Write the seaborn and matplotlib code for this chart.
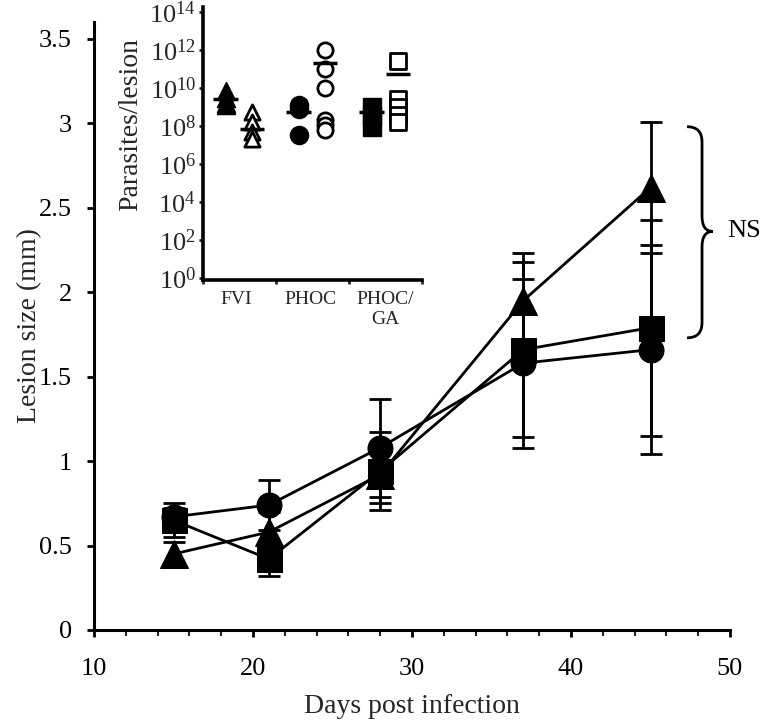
import numpy as np
import pandas as pd
import matplotlib
matplotlib.use("Agg")
import matplotlib.pyplot as plt
from matplotlib.path import Path
from matplotlib.patches import PathPatch
from matplotlib.ticker import FixedLocator, MultipleLocator
import seaborn as sns

# ---------------- data ----------------
days = [15, 21, 28, 37, 45]
circle_mean = [0.67, 0.74, 1.08, 1.58, 1.66]
circle_sd = [0.05, 0.15, 0.29, 0.50, 0.62]
square_mean = [0.65, 0.42, 0.94, 1.66, 1.79]
square_sd = [0.10, 0.10, 0.23, 0.52, 0.64]
triangle_mean = [0.45, 0.58, 0.92, 1.95, 2.62]
triangle_sd = [0.07, 0.12, 0.17, 0.28, 0.39]

x_ticks = [10, 20, 30, 40, 50]
y_ticks = [0, 0.5, 1, 1.5, 2, 2.5, 3, 3.5]
y_tick_labels = ["0", "0.5", "1", "1.5", "2", "2.5", "3", "3.5"]

# inset: log10(parasites/lesion)
inset_categories = ["FVI", "PHOC", "PHOC/\nGA"]
fvi_filled = [9.85, 9.45, 9.2, 9.1]
fvi_open = [8.75, 8.2, 7.7, 7.3]
phoc_filled = [9.1, 8.9, 7.5]
phoc_open = [12.0, 11.0, 10.0, 8.3, 8.05, 7.8]
ga_filled = [9.0, 8.5, 7.95]
ga_open = [11.4, 9.4, 9.0, 8.55, 8.2]
# group means (log10)
fvi_means = [9.42, 7.84]
phoc_means = [8.73, 11.32]
ga_means = [8.73, 10.72]
inset_exponents = [0, 2, 4, 6, 8, 10, 12, 14]

# ---------------- style ----------------
sns.set_style("ticks")
plt.rcParams["font.family"] = ["Liberation Serif", "DejaVu Serif"]
plt.rcParams["mathtext.fontset"] = "custom"
plt.rcParams["mathtext.rm"] = "Liberation Serif"
plt.rcParams["mathtext.it"] = "Liberation Serif:italic"
plt.rcParams["mathtext.bf"] = "Liberation Serif:bold"
plt.rcParams["text.color"] = "black"

fig = plt.figure(figsize=(7.63, 7.24), dpi=100)
ax = fig.add_axes([94 / 763, 1 - 630 / 724, 636 / 763, 608 / 724])

df = pd.DataFrame({
    "day": days * 3,
    "size": circle_mean + triangle_mean + square_mean,
    "group": ["circle"] * 5 + ["triangle"] * 5 + ["square"] * 5,
})
marker_map = {"circle": "o", "triangle": "^", "square": "s"}
sd_map = {"circle": circle_sd, "triangle": triangle_sd, "square": square_sd}
mean_map = {"circle": circle_mean, "triangle": triangle_mean, "square": square_mean}

for g in ["circle", "triangle", "square"]:
    ax.errorbar(days, mean_map[g], yerr=sd_map[g], fmt="none", ecolor="black",
                elinewidth=2.0, capsize=8, capthick=2.0, zorder=2)
    sub = df[df["group"] == g]
    sns.lineplot(data=sub, x="day", y="size", ax=ax, color="black",
                 marker=marker_map[g], markersize=18 if g != "triangle" else 20,
                 markeredgecolor="black", markerfacecolor="black",
                 linewidth=2.0, legend=False, zorder=3, errorbar=None)

ax.set_xlim(10, 50)
ax.set_ylim(0, 3.6)
ax.xaxis.set_major_locator(FixedLocator(x_ticks))
ax.xaxis.set_minor_locator(MultipleLocator(2))
ax.yaxis.set_major_locator(FixedLocator(y_ticks))
ax.set_yticklabels(y_tick_labels)
ax.tick_params(axis="both", which="major", direction="out", length=5, width=2,
               labelsize=19, colors="black")
ax.tick_params(axis="x", which="major", pad=15)
ax.tick_params(axis="y", which="major", pad=11)
ax.tick_params(axis="x", which="minor", direction="out", length=4, width=1.5)
for s in ["top", "right"]:
    ax.spines[s].set_visible(False)
for s in ["left", "bottom"]:
    ax.spines[s].set_linewidth(2.2)
    ax.spines[s].set_color("black")
ax.set_xlabel("Days post infection", fontsize=20)
ax.set_ylabel("Lesion size (mm)", fontsize=20)
ax.xaxis.set_label_coords(0.5, -0.105)
ax.yaxis.set_label_coords(-0.082, 0.5)

# curly brace + NS
x0, x1, x2 = 47.3, 48.24, 48.93
ytop, ybot, ymid = 2.98, 1.73, 2.36
r = 0.09
verts = [(x0, ytop), (x1, ytop), (x1, ytop - r),
         (x1, ymid + r), (x1, ymid), (x2, ymid),
         (x1, ymid), (x1, ymid - r),
         (x1, ybot + r), (x1, ybot), (x0, ybot)]
codes = [Path.MOVETO, Path.CURVE3, Path.CURVE3,
         Path.LINETO, Path.CURVE3, Path.CURVE3,
         Path.CURVE3, Path.CURVE3,
         Path.LINETO, Path.CURVE3, Path.CURVE3]
ax.add_patch(PathPatch(Path(verts, codes), fill=False, lw=2.0, color="black",
                       clip_on=False))
ax.text(49.8, ymid, "NS", fontsize=19, ha="left", va="center", clip_on=False)

# ---------------- inset ----------------
axi = fig.add_axes([203 / 763, 1 - 280 / 724, 219 / 763, 273 / 724])
groups = [
    (0, fvi_filled, fvi_open, fvi_means, "^"),
    (1, phoc_filled, phoc_open, phoc_means, "o"),
    (2, ga_filled, ga_open, ga_means, "s"),
]
for i, filled, opened, means, mk in groups:
    xf, xo = i + 0.31, i + 0.67
    sns.scatterplot(x=[xf] * len(filled), y=[10 ** v for v in filled], ax=axi,
                    marker=mk, s=170, color="black", edgecolor="black",
                    linewidth=1, legend=False, zorder=3)
    sns.scatterplot(x=[xo] * len(opened), y=[10 ** v for v in opened], ax=axi,
                    marker=mk, s=120, facecolor="white", edgecolor="black",
                    linewidth=2, legend=False, zorder=3)
    axi.hlines([10 ** means[0]], xf - 0.17, xf + 0.17, color="black", lw=2.5, zorder=4)
    axi.hlines([10 ** means[1]], xo - 0.17, xo + 0.17, color="black", lw=2.5, zorder=4)

axi.set_yscale("log")
axi.set_ylim(10 ** -0.1, 10 ** 14.25)
axi.set_xlim(0, 3)
axi.yaxis.set_major_locator(FixedLocator([10.0 ** k for k in inset_exponents]))
axi.yaxis.set_minor_locator(FixedLocator([]))
axi.set_yticklabels([f"$10^{{{k}}}$" for k in inset_exponents])
axi.xaxis.set_major_locator(FixedLocator([0, 1, 2, 3]))
axi.set_xticklabels([])
axi.xaxis.set_minor_locator(FixedLocator([0.45, 1.47, 2.5]))
axi.set_xticklabels(inset_categories, minor=True)
axi.tick_params(axis="x", which="minor", length=0, labelsize=14, pad=8)
axi.tick_params(axis="x", which="major", direction="out", length=3, width=2)
axi.tick_params(axis="y", which="major", direction="out", length=3, width=2,
                labelsize=19, pad=2)
for s in ["top", "right"]:
    axi.spines[s].set_visible(False)
for s in ["left", "bottom"]:
    axi.spines[s].set_linewidth(2.6)
    axi.spines[s].set_color("black")
axi.set_ylabel("Parasites/lesion", fontsize=20)
axi.yaxis.set_label_coords(-0.275, 0.57)
axi.patch.set_alpha(0)

fig.savefig("out.png", dpi=100)
